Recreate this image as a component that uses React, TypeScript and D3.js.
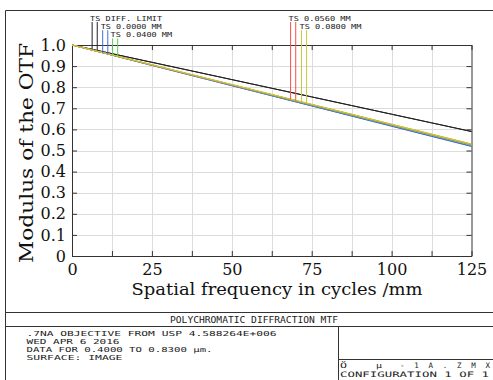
import { useEffect, useRef } from "react"
import * as d3 from "d3"

// spatial frequency samples (cycles/mm)
const FREQS = [0, 12.5, 25, 37.5, 50, 62.5, 75, 87.5, 100, 112.5, 125]

// modulus values, T and S for each field
const DIFF_T = [1.0, 0.959, 0.918, 0.877, 0.836, 0.795, 0.754, 0.713, 0.672, 0.631, 0.59]
const DIFF_S = [1.0, 0.959, 0.918, 0.877, 0.836, 0.795, 0.754, 0.713, 0.672, 0.631, 0.59]
const F1_T = [1.0, 0.952, 0.903, 0.855, 0.807, 0.759, 0.711, 0.663, 0.615, 0.567, 0.519]
const F1_S = [1.0, 0.952, 0.904, 0.856, 0.808, 0.76, 0.712, 0.664, 0.616, 0.568, 0.521]
const F2_T = [1.0, 0.953, 0.905, 0.857, 0.81, 0.762, 0.715, 0.667, 0.62, 0.572, 0.525]
const F2_S = [1.0, 0.953, 0.905, 0.858, 0.811, 0.763, 0.716, 0.669, 0.621, 0.574, 0.527]
const F3_T = [1.0, 0.953, 0.906, 0.859, 0.812, 0.765, 0.718, 0.671, 0.624, 0.577, 0.53]
const F3_S = [1.0, 0.953, 0.905, 0.858, 0.811, 0.764, 0.717, 0.67, 0.622, 0.575, 0.528]
const F4_T = [1.0, 0.953, 0.906, 0.859, 0.812, 0.765, 0.718, 0.671, 0.623, 0.576, 0.529]
const F4_S = [1.0, 0.954, 0.907, 0.86, 0.813, 0.766, 0.719, 0.672, 0.625, 0.578, 0.531]

const FIELD_LABELS = ["TS DIFF. LIMIT", "TS 0.0000 MM", "TS 0.0400 MM", "TS 0.0560 MM", "TS 0.0800 MM"]
const FIELD_SERIES = [[DIFF_T, DIFF_S], [F1_T, F1_S], [F2_T, F2_S], [F3_T, F3_S], [F4_T, F4_S]]
const FIELD_COLORS = ["#222222", "#3f6fe0", "#5cc85c", "#f0504a", "#c8c83a"]

const Y_TICKS = d3.range(0, 11).map(i => i / 10)
const X_TICKS = d3.range(0, 11).map(i => i * 12.5)

const FOOTER_TITLE = "POLYCHROMATIC DIFFRACTION MTF"
const FOOTER_LEFT = [".7NA OBJECTIVE FROM USP 4.588264E+006", "WED APR 6 2016", "DATA FOR 0.4000 TO 0.8300 \u00b5m.", "SURFACE: IMAGE"]

const MONO = "'DejaVu Sans Mono', monospace"
const SERIF = "'DejaVu Serif', serif"

function valueAt(vals: number[], f: number) {
    const i = Math.min(d3.bisectRight(FREQS, f), FREQS.length - 1)
    const t = (f - FREQS[i - 1]) / (FREQS[i] - FREQS[i - 1])
    return vals[i - 1] + t * (vals[i] - vals[i - 1])
}

export default function App() {
    const svgRef = useRef<SVGSVGElement>(null)

    useEffect(() => {
        const svg = d3.select(svgRef.current)
        svg.selectAll("*").remove()

        const x = d3.scaleLinear().domain([0, 125]).range([72, 471.5])
        const y = d3.scaleLinear().domain([0, 1]).range([256, 45])

        svg.append("rect").attr("width", 493).attr("height", 380).attr("fill", "white")

        // outer frame and footer boxes
        const frame = svg.append("g").attr("stroke", "#333").attr("stroke-width", 1).attr("fill", "none")
        frame.append("path").attr("d", "M5.5,380V10.5H493")
        frame.append("path").attr("d", "M5.5,312.5H493M5.5,326.5H493")
        frame.append("path").attr("d", "M338.5,326.5V380M338.5,359.5H493")

        // grid
        const grid = svg.append("g").attr("stroke", "#dcdcdc").attr("stroke-width", 1)
        grid.selectAll("line.v").data(X_TICKS.slice(1, -1)).join("line")
            .attr("class", "v")
            .attr("x1", d => Math.round(x(d)) + 0.5).attr("x2", d => Math.round(x(d)) + 0.5)
            .attr("y1", 45).attr("y2", 256)
        grid.selectAll("line.h").data(Y_TICKS.slice(1, -1)).join("line")
            .attr("class", "h")
            .attr("y1", d => Math.round(y(d)) + 0.5).attr("y2", d => Math.round(y(d)) + 0.5)
            .attr("x1", 72).attr("x2", 471.5)

        // axes with inward ticks
        const fmtY = (d: any) => d === 0 ? "0" : d3.format(".1f")(d)
        const fmtX = (d: any) => d % 25 === 0 ? String(d) : ""
        const axes = [
            svg.append("g").attr("transform", "translate(72,0)")
                .call(d3.axisLeft(y).tickValues(Y_TICKS).tickSize(-5).tickSizeOuter(0).tickPadding(6).tickFormat(fmtY)),
            svg.append("g").attr("transform", "translate(471.5,0)")
                .call(d3.axisRight(y).tickValues(Y_TICKS).tickSize(-5).tickSizeOuter(0).tickFormat(() => "")),
            svg.append("g").attr("transform", "translate(0,256)")
                .call(d3.axisBottom(x).tickValues(X_TICKS).tickSize(-5).tickSizeOuter(0).tickPadding(8).tickFormat(fmtX)),
            svg.append("g").attr("transform", "translate(0,45)")
                .call(d3.axisTop(x).tickValues(X_TICKS).tickSize(-5).tickSizeOuter(0).tickFormat(() => "")),
        ]
        axes.forEach(a => {
            a.selectAll(".domain").attr("stroke", "#333")
            a.selectAll(".tick line").attr("stroke", "#333")
            a.selectAll("text").attr("font-family", SERIF).attr("font-size", 16).attr("fill", "#111")
        })

        // curves
        const line = d3.line<number>().x((d, i) => x(FREQS[i])).y(d => y(d))
        FIELD_SERIES.forEach((pair, k) => {
            pair.forEach(vals => {
                svg.append("path").datum(vals)
                    .attr("d", line)
                    .attr("fill", "none")
                    .attr("stroke", FIELD_COLORS[k])
                    .attr("stroke-width", 1)
            })
        })

        // field legend: labels staggered, with T/S drop lines down to the curves
        const legendStart = [6.3, 9.6, 12.7, 68.4, 71.8]
        const legendRow = [0, 1, 2, 0, 1]
        const legendLen = [72, 61, 61.5, 62, 62]
        FIELD_LABELS.forEach((label, k) => {
            const base = 20.5 + legendRow[k] * 8.2
            svg.append("text")
                .attr("x", x(legendStart[k]) - 2).attr("y", base)
                .attr("font-family", MONO).attr("font-size", 6.9).attr("fill", "#222")
                .attr("textLength", legendLen[k]).attr("lengthAdjust", "spacingAndGlyphs")
                .text(label)
            FIELD_SERIES[k].forEach((vals, j) => {
                const f = legendStart[k] + j * 1.6
                svg.append("line")
                    .attr("x1", x(f)).attr("x2", x(f))
                    .attr("y1", base + 1.5).attr("y2", y(valueAt(vals, f)))
                    .attr("stroke", FIELD_COLORS[k]).attr("stroke-width", 1)
            })
        })

        // axis titles
        svg.append("text")
            .attr("x", 277).attr("y", 295)
            .attr("text-anchor", "middle")
            .attr("font-family", SERIF).attr("font-size", 16).attr("fill", "#111")
            .attr("textLength", 291).attr("lengthAdjust", "spacingAndGlyphs")
            .text("Spatial frequency in cycles /mm")
        svg.append("text")
            .attr("transform", "translate(33,153) rotate(-90)")
            .attr("text-anchor", "middle")
            .attr("font-family", SERIF).attr("font-size", 18).attr("fill", "#111")
            .attr("textLength", 220).attr("lengthAdjust", "spacingAndGlyphs")
            .text("Modulus of the OTF")

        // footer text
        const mono = (t: string, tx: number, ty: number, len: number, size = 6.9) =>
            svg.append("text").attr("x", tx).attr("y", ty)
                .attr("font-family", MONO).attr("font-size", size).attr("fill", "#222")
                .attr("textLength", len).attr("lengthAdjust", "spacingAndGlyphs")
                .text(t)
        mono(FOOTER_TITLE, 170, 322.5, 168, 8)
        const lens = [250, 93, 186, 96]
        FOOTER_LEFT.forEach((t, i) => mono(t, 26.5, 336 + i * 8.1, lens[i]))
        mono("\u00d6", 340, 367.5, 7, 7.5)
        mono("\u00b5", 376, 367.5, 6, 7.5)
        svg.append("text").attr("x", 400).attr("y", 367.5)
            .attr("font-family", MONO).attr("font-size", 7.5).attr("fill", "#222")
            .attr("textLength", 90).attr("lengthAdjust", "spacing")
            .text("-1A.ZMX")
        mono("CONFIGURATION 1 OF 1", 340, 377, 149, 7.5)
    }, [])

    return (
        <div style={{ position: "absolute", left: 0, top: 0 }}>
            <svg ref={svgRef} width={493} height={380} />
        </div>
    )
}
